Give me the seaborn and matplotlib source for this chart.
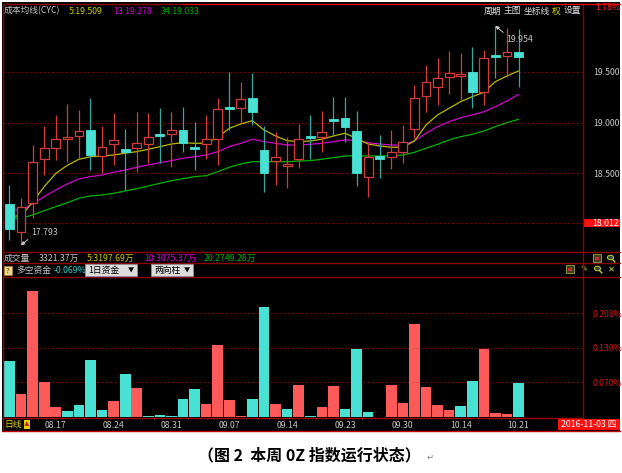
import matplotlib
matplotlib.use('Agg')
import matplotlib.pyplot as plt
import matplotlib.patches as mpatches
import matplotlib.lines as mlines
import matplotlib.transforms as mtrans
import numpy as np
import pandas as pd
import seaborn as sns

# ---------------- data ----------------
dates = ["08.11", "08.12", "08.15", "08.16", "08.17", "08.18", "08.19", "08.22", "08.23", "08.24",
         "08.25", "08.26", "08.29", "08.30", "08.31", "09.01", "09.02", "09.05", "09.06", "09.07",
         "09.08", "09.09", "09.12", "09.13", "09.14", "09.19", "09.20", "09.21", "09.22", "09.23",
         "09.26", "09.27", "09.28", "09.29", "09.30", "10.10", "10.11", "10.12", "10.13", "10.14",
         "10.17", "10.18", "10.19", "10.20", "10.21"]
opens = [18.197, 17.927, 18.207, 18.640, 18.748, 18.837, 18.869, 18.928, 18.675, 18.793,
         18.738, 18.748, 18.790, 18.884, 18.889, 18.928, 18.764, 18.790, 18.837, 19.146,
         19.142, 19.240, 18.731, 18.623, 18.574, 18.643, 18.860, 18.856, 19.031, 19.043,
         18.921, 18.463, 18.675, 18.665, 18.715, 18.938, 19.266, 19.348, 19.453, 19.460,
         19.502, 19.299, 19.663, 19.656, 19.699]
highs = [18.387, 18.262, 18.780, 18.970, 19.076, 19.184, 19.125, 19.240, 18.968, 19.093,
         18.935, 19.102, 19.093, 19.142, 19.108, 19.157, 19.010, 19.076, 19.240, 19.502,
         19.398, 19.486, 18.968, 18.911, 18.856, 18.987, 19.076, 19.118, 19.256, 19.256,
         19.118, 18.797, 18.879, 18.928, 18.977, 19.371, 19.568, 19.640, 19.706, 19.689,
         19.742, 19.716, 19.954, 19.929, 19.922]
lows = [17.845, 17.793, 18.059, 18.485, 18.633, 18.616, 18.650, 18.534, 18.502, 18.584,
        18.338, 18.518, 18.600, 18.600, 18.567, 18.715, 18.534, 18.643, 18.584, 18.928,
        18.994, 18.977, 18.321, 18.387, 18.354, 18.551, 18.643, 18.715, 18.879, 18.813,
        18.377, 18.266, 18.453, 18.544, 18.600, 18.846, 19.108, 19.174, 19.280, 19.223,
        19.148, 19.174, 19.443, 19.453, 19.354]
closes = [17.951, 18.170, 18.610, 18.748, 18.837, 18.862, 18.915, 18.682, 18.758, 18.827,
          18.712, 18.797, 18.862, 18.876, 18.928, 18.803, 18.741, 18.837, 19.132, 19.138,
          19.233, 19.102, 18.508, 18.665, 18.594, 18.837, 18.852, 18.906, 19.023, 18.961,
          18.508, 18.665, 18.640, 18.715, 18.813, 19.246, 19.398, 19.437, 19.486, 19.479,
          19.299, 19.634, 19.655, 19.699, 19.644]
cyc5 = [18.081, 18.081, 18.220, 18.370, 18.500, 18.580, 18.640, 18.665, 18.672, 18.682,
        18.699, 18.715, 18.738, 18.764, 18.790, 18.803, 18.797, 18.797, 18.856, 18.945,
        18.987, 19.020, 18.928, 18.869, 18.823, 18.813, 18.820, 18.837, 18.869, 18.896,
        18.846, 18.790, 18.771, 18.758, 18.758, 18.820, 18.977, 19.076, 19.142, 19.207,
        19.256, 19.299, 19.404, 19.460, 19.509]
cyc13 = [18.151, 18.141, 18.200, 18.272, 18.338, 18.397, 18.446, 18.469, 18.485, 18.512,
         18.534, 18.561, 18.584, 18.606, 18.626, 18.650, 18.665, 18.682, 18.715, 18.764,
         18.797, 18.837, 18.813, 18.797, 18.780, 18.780, 18.787, 18.797, 18.813, 18.830,
         18.823, 18.803, 18.790, 18.780, 18.780, 18.820, 18.896, 18.961, 19.010, 19.049,
         19.076, 19.108, 19.157, 19.214, 19.278]
cyc34 = [18.059, 18.059, 18.092, 18.134, 18.173, 18.213, 18.256, 18.279, 18.288, 18.305,
         18.328, 18.350, 18.377, 18.403, 18.429, 18.449, 18.469, 18.478, 18.518, 18.561,
         18.594, 18.616, 18.616, 18.616, 18.616, 18.623, 18.626, 18.640, 18.656, 18.672,
         18.675, 18.672, 18.672, 18.675, 18.682, 18.708, 18.748, 18.787, 18.830, 18.862,
         18.886, 18.918, 18.961, 19.000, 19.033]
# net long/short fund flow (%), positive = red, negative = cyan
flow = [-0.1125, 0.0473, 0.2536, 0.0705, 0.0206, -0.0134, -0.0246, -0.1152, -0.0146, 0.0333,
        -0.0872, 0.0593, -0.0020, -0.0047, -0.0020, -0.0373, -0.0566, 0.0260, 0.1438, 0.0346,
        0.0033, -0.0373, -0.2203, 0.0260, -0.0173, 0.0659, -0.0020, 0.0206, 0.0633, -0.0160,
        -0.1378, -0.0113, 0.0, 0.0659, 0.0286, 0.1870, 0.0606, 0.0246, 0.0146, -0.0220,
        -0.0733, 0.1378, 0.0087, 0.0073, -0.0693]
price_ticks = [19.5, 19.0, 18.5]
price_labels = ["19.500", "19.000", "18.500"]
last_low_ref = 18.012
flow_ticks = [0.208, 0.139, 0.070]
flow_labels = ["0.208%", "0.139%", "0.070%"]
date_tick_labels = ["08.17", "08.24", "08.31", "09.07", "09.14", "09.23", "09.30", "10.14", "10.21"]

# ---------------- style ----------------
sns.set_theme(style='dark')
plt.rcParams['font.family'] = ['Noto Sans CJK SC', 'DejaVu Sans']
plt.rcParams['axes.unicode_minus'] = False

W, H = 622, 473
fig = plt.figure(figsize=(W / 100, H / 100), dpi=100, facecolor='white')


def fx(x):
    return x / W


def fy(y):
    return 1 - y / H


BG = 'black'
DARKRED = '#8c0000'
BRED = '#e00000'
GRID = '#7a0000'
TXT = '#c4c4c4'
YEL = '#c8c800'
MAG = '#d000d0'
GRN = '#00b400'
C_UP = '#d43c3c'
C_DN = '#48e2d4'
C_DN_W = '#33a8a0'
BAR_UP = '#ff5a5a'
FS = 6.3

fig.add_artist(mpatches.Rectangle((fx(2), fy(431)), 618 / W, 429 / H, transform=fig.transFigure,
                                  facecolor=BG, edgecolor='none', zorder=0))


def hline(y, x0, x1, color=DARKRED, lw=1.0):
    fig.add_artist(mlines.Line2D([fx(x0), fx(x1)], [fy(y), fy(y)], color=color, lw=lw,
                                 transform=fig.transFigure, zorder=5))


def vline(x, y0, y1, color=DARKRED, lw=1.0):
    fig.add_artist(mlines.Line2D([fx(x), fx(x)], [fy(y0), fy(y1)], color=color, lw=lw,
                                 transform=fig.transFigure, zorder=5))


def ftext(x, y, s, color=TXT, size=FS, ha='left', va='center', **kw):
    fig.text(fx(x), fy(y), s, color=color, fontsize=size, ha=ha, va=va, **kw)


n = len(dates)
idx = np.arange(n)
XL = (-0.56, 49.57)

# ---------------- main price panel ----------------
ax = fig.add_axes([fx(3), fy(252), 580 / W, 248 / H])
ax.set_facecolor('none')
for s in ax.spines.values():
    s.set_visible(False)
ax.set_xlim(*XL)
ax.set_ylim(17.727, 20.168)
ax.grid(False)

for p in price_ticks + [last_low_ref]:
    ax.axhline(p, color=GRID, lw=0.8, ls=(0, (2, 2)), zorder=1)

sns.lineplot(x=idx, y=cyc34, ax=ax, color=GRN, lw=0.9, zorder=2)
sns.lineplot(x=idx, y=cyc13, ax=ax, color=MAG, lw=0.9, zorder=2)
sns.lineplot(x=idx, y=cyc5, ax=ax, color='#b8b800', lw=0.9, zorder=2)

bw = 0.76
minh = 0.022
for i in range(n):
    o, h, l, c = opens[i], highs[i], lows[i], closes[i]
    up = c >= o
    wc = C_UP if up else C_DN_W
    ax.vlines(i, l, h, color=wc, lw=0.9, zorder=3)
    bot = min(o, c)
    hh = max(abs(c - o), minh)
    if abs(c - o) < minh:
        bot = (o + c) / 2 - minh / 2
    if up:
        ax.add_patch(mpatches.Rectangle((i - bw / 2, bot), bw, hh, facecolor='black',
                                        edgecolor=C_UP, lw=0.9, zorder=4))
    else:
        ax.add_patch(mpatches.Rectangle((i - bw / 2, bot), bw, hh, facecolor=C_DN,
                                        edgecolor=C_DN, lw=0.6, zorder=4))

ax.set_xlabel('')
ax.set_ylabel('')
ax.set_xticks([])
ax.yaxis.tick_right()
ax.set_yticks(price_ticks)
ax.set_yticklabels(price_labels)
ax.tick_params(axis='y', length=0, pad=7.0, labelcolor=TXT, labelsize=FS)

# 18.012 marker
bt = mtrans.blended_transform_factory(fig.transFigure, ax.transData)
ax.add_patch(mpatches.Rectangle((fx(583), last_low_ref - 0.042), 37 / W, 0.084, transform=bt,
                                facecolor='#ff1010', edgecolor='none', clip_on=False, zorder=6))
ax.text(fx(592), last_low_ref, f"{last_low_ref:.3f}", transform=bt, color='white', fontsize=FS,
        ha='left', va='center', zorder=7, clip_on=False)

# low / high annotations
lo_i = int(np.argmin(lows))
hi_i = int(np.argmax(highs))
ax.annotate(f"{lows[lo_i]:.3f}", xy=(lo_i, lows[lo_i]), xytext=(10, 13), textcoords='offset pixels',
            color=TXT, fontsize=FS, ha='left', va='center', zorder=8,
            arrowprops=dict(arrowstyle='-|>', color='#d0d0d0', lw=0.7, mutation_scale=5,
                            relpos=(0, 0), shrinkA=0, shrinkB=0))
ax.annotate(f"{highs[hi_i]:.3f}", xy=(hi_i, highs[hi_i]), xytext=(11, -14), textcoords='offset pixels',
            color=TXT, fontsize=FS, ha='left', va='center', zorder=8,
            arrowprops=dict(arrowstyle='-|>', color='#d0d0d0', lw=0.7, mutation_scale=5,
                            relpos=(0, 1), shrinkA=0, shrinkB=0))

# ---------------- fund flow panel ----------------
ax2 = fig.add_axes([fx(3), fy(418), 580 / W, 141 / H])
ax2.set_facecolor('none')
for s in ax2.spines.values():
    s.set_visible(False)
ax2.grid(False)
flow_arr = np.array(flow)
fdf = pd.DataFrame({'idx': idx, 'val': np.abs(flow_arr),
                    'dir': np.where(flow_arr >= 0, 'in', 'out')})
for p in flow_ticks:
    ax2.axhline(p, color=GRID, lw=0.8, ls=(0, (2, 2)), zorder=1)
sns.barplot(data=fdf, x='idx', y='val', hue='dir', palette={'in': BAR_UP, 'out': C_DN},
            native_scale=True, dodge=False, width=0.92, errorbar=None, legend=False,
            saturation=1, linewidth=0, ax=ax2, zorder=3)
ax2.set_xlim(*XL)
ax2.set_ylim(-0.001, 0.2806)
ax2.set_xlabel('')
ax2.set_ylabel('')
ax2.yaxis.tick_right()
ax2.set_yticks(flow_ticks)
ax2.set_yticklabels(flow_labels)
ax2.tick_params(axis='y', length=0, pad=7.0, labelcolor='#c01818', labelsize=FS)
tick_pos = [dates.index(d) for d in date_tick_labels]
ax2.set_xticks(tick_pos)
ax2.set_xticklabels(date_tick_labels)
ax2.tick_params(axis='x', length=0, pad=2.2, labelcolor=TXT, labelsize=FS)

# ---------------- frame lines ----------------
hline(4, 3, 183, DARKRED)
hline(4, 183, 620, BRED)
hline(252, 3, 620)
hline(263, 3, 620)
hline(277, 3, 620)
hline(418, 3, 583, '#a00000')
hline(430.5, 2, 620, '#c00000')
vline(3, 4, 431)
vline(583, 4, 418)

# ---------------- header texts ----------------
ftext(4, 11, "成本均线(CYC)", TXT)
ftext(69, 11, f"5:{cyc5[-1]:.3f}", YEL)
ftext(113, 11, f"13:{cyc13[-1]:.3f}", MAG)
ftext(161, 11, f"34:{cyc34[-1]:.3f}", '#00b000')
ftext(484, 11, "周期", '#e0e0e0')
ftext(504, 11, "主图", '#e0e0e0')
ftext(524, 11, "坐标线", '#e0e0e0')
ftext(552, 11, "权", '#d8d800')
ftext(564, 11, "设置", '#e0e0e0')
ftext(595, 7.5, "1.78%", '#ff2020')

# volume row
ftext(4, 258, "成交量", TXT)
ftext(39, 258, "3321.37万", TXT)
ftext(87, 258, "5:3197.69万", YEL)
ftext(144, 258, "10:3075.37万", MAG)
ftext(204, 258, "20:2749.28万", '#00b000')

# fund row
fig.add_artist(mpatches.Rectangle((fx(4), fy(275)), 8 / W, 9 / H, transform=fig.transFigure,
                                  facecolor='#e8d890', edgecolor='#a08030', lw=0.6, zorder=6))
ftext(8, 270.5, "?", '#603000', size=5.5, ha='center', zorder=7)
ftext(16, 270.5, "多空资金", TXT)
ftext(54, 270.5, f"{flow[-1]:.3f}%", '#30c8c8')
for (x0, x1, lab) in [(85, 137, "1日资金"), (151, 193, "两向柱")]:
    fig.add_artist(mpatches.Rectangle((fx(x0), fy(276)), (x1 - x0) / W, 11.5 / H,
                                      transform=fig.transFigure, facecolor='#dcdcdc',
                                      edgecolor='#909090', lw=0.6, zorder=6))
    ftext(x0 + 3, 270.5, lab, 'black', zorder=7)
    ftext(x1 - 6, 270.5, "▼", 'black', size=4.5, ha='center', zorder=7)

# little toolbar icons


def cal_icon(x, y):
    fig.add_artist(mpatches.Rectangle((fx(x), fy(y + 4)), 8 / W, 8 / H, transform=fig.transFigure,
                                      facecolor='#404020', edgecolor='#a0a040', lw=0.6, zorder=6))
    fig.add_artist(mpatches.Rectangle((fx(x + 2), fy(y + 2)), 4 / W, 3 / H, transform=fig.transFigure,
                                      facecolor='#c03030', edgecolor='none', zorder=7))


def mag_icon(x, y):
    fig.add_artist(mpatches.Circle((fx(x + 3.5), fy(y - 0.5)), 3 / W, transform=fig.transFigure,
                                   facecolor='#305030', edgecolor='#c8c840', lw=0.7, zorder=6))
    fig.add_artist(mlines.Line2D([fx(x + 5.5), fx(x + 8)], [fy(y + 1.5), fy(y + 4)], color='#c8c840',
                                 lw=1.0, transform=fig.transFigure, zorder=6))


cal_icon(593, 258)
mag_icon(607, 258)
cal_icon(566, 269)
ftext(584, 269, "✎", '#c8c840', size=6, ha='center')
mag_icon(594, 269)
ftext(611, 269, "✕", '#d0d040', size=6, ha='center')

# bottom row
ftext(4, 424, "日线", '#e0d000')
fig.add_artist(mpatches.Rectangle((fx(24), fy(429)), 6 / W, 9 / H, transform=fig.transFigure,
                                  facecolor='#e8d000', edgecolor='none', zorder=6))
ftext(27, 424.5, "▲", '#c02020', size=4, ha='center', zorder=7)
fig.add_artist(mpatches.Rectangle((fx(558), fy(430)), 62 / W, 11 / H, transform=fig.transFigure,
                                  facecolor='#ff1010', edgecolor='none', zorder=6))
ftext(561, 424.5, "2016-11-03 四", 'white', zorder=7)

# caption
ftext(198, 455, "（图 2  本周 0Z 指数运行状态）", 'black', size=11.5, fontweight='bold')
ftext(427, 457, "↵", '#808080', size=6)

fig.savefig('out.png', dpi=100, facecolor='white')
